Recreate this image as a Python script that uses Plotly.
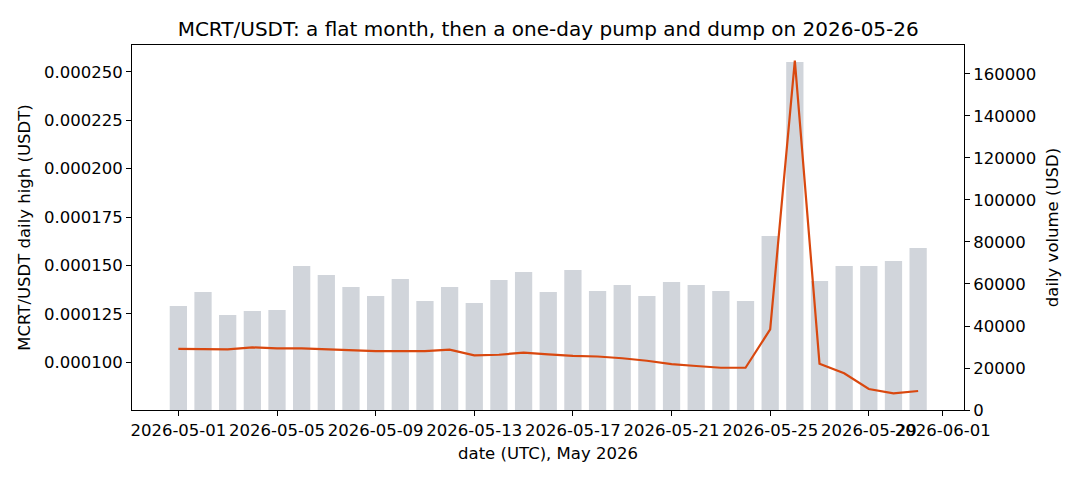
import plotly.graph_objects as go
import pandas as pd

dates = pd.date_range("2026-05-01", "2026-05-31", freq="D")

daily_high = [
    0.0001069, 0.0001069, 0.0001067, 0.0001077, 0.0001072, 0.0001072, 0.0001067,
    0.0001060, 0.0001058, 0.0001058, 0.0001058, 0.0001065, 0.0001036, 0.0001039,
    0.0001050, 0.0001041, 0.0001033, 0.0001030, 0.0001021, 0.0001008, 0.0000991,
    0.0000981, 0.0000972, 0.0000972, 0.0001170, 0.0002557, 0.0000993, 0.0000943,
    0.0000862, 0.0000840, 0.0000852,
]

daily_volume = [
    49500, 56200, 45200, 47100, 47600, 68600, 64300, 58600, 54300, 62400,
    51900, 58600, 51000, 61900, 65700, 56200, 66700, 56700, 59500, 54300,
    61000, 59500, 56700, 51900, 82900, 165700, 61400, 68600, 68600, 71000,
    77100,
]

x_tick_vals = ["2026-05-01", "2026-05-05", "2026-05-09", "2026-05-13", "2026-05-17",
               "2026-05-21", "2026-05-25", "2026-05-29", "2026-06-01"]
left_tick_vals = [0.0001, 0.000125, 0.00015, 0.000175, 0.0002, 0.000225, 0.00025]
right_tick_vals = [0, 20000, 40000, 60000, 80000, 100000, 120000, 140000, 160000]

DAY_MS = 86400000
font = "DejaVu Sans"
FS = 16.5

fig = go.Figure()
fig.add_trace(go.Bar(
    x=dates, y=daily_volume, yaxis="y", width=0.7 * DAY_MS,
    marker=dict(color="#d1d5db", line=dict(width=0)), name="volume",
))
fig.add_trace(go.Scatter(
    x=dates, y=daily_high, yaxis="y2", mode="lines",
    line=dict(color="#d9480f", width=2.2), name="daily high",
))

x0 = pd.Timestamp("2026-05-01") - pd.Timedelta(days=1.88)
x1 = pd.Timestamp("2026-05-01") + pd.Timedelta(days=31.86)

axis_common = dict(
    showline=True, linecolor="black", linewidth=1, ticks="outside",
    ticklen=5, tickwidth=1, tickcolor="black", showgrid=False, zeroline=False,
    tickfont=dict(family=font, size=FS, color="black"), automargin=False,
)

fig.update_layout(
    width=1080, height=480,
    margin=dict(l=132, r=116, t=45, b=70),
    paper_bgcolor="white", plot_bgcolor="white",
    showlegend=False,
    title=dict(
        text="MCRT/USDT: a flat month, then a one-day pump and dump on 2026-05-26",
        font=dict(family=font, size=20, color="black"),
        x=0.5076, xanchor="center", y=0.94, yanchor="middle",
    ),
    xaxis=dict(
        **axis_common, type="date", range=[x0, x1], mirror=True,
        tickvals=x_tick_vals, ticktext=x_tick_vals, tickangle=0,
        title=dict(text="date (UTC), May 2026", font=dict(family=font, size=FS, color="black"), standoff=8),
    ),
    yaxis=dict(
        **axis_common, side="right", range=[0, 173800],
        tickvals=right_tick_vals, tickformat="d",
        title=dict(text="daily volume (USD)", font=dict(family=font, size=FS, color="black"), standoff=11),
    ),
    yaxis2=dict(
        **axis_common, overlaying="y", side="left", range=[0.00007538, 0.0002638],
        tickvals=left_tick_vals, tickformat=".6f",
        title=dict(text="MCRT/USDT daily high (USDT)", font=dict(family=font, size=FS, color="black"), standoff=9),
    ),
)

fig.write_html("out.html")
